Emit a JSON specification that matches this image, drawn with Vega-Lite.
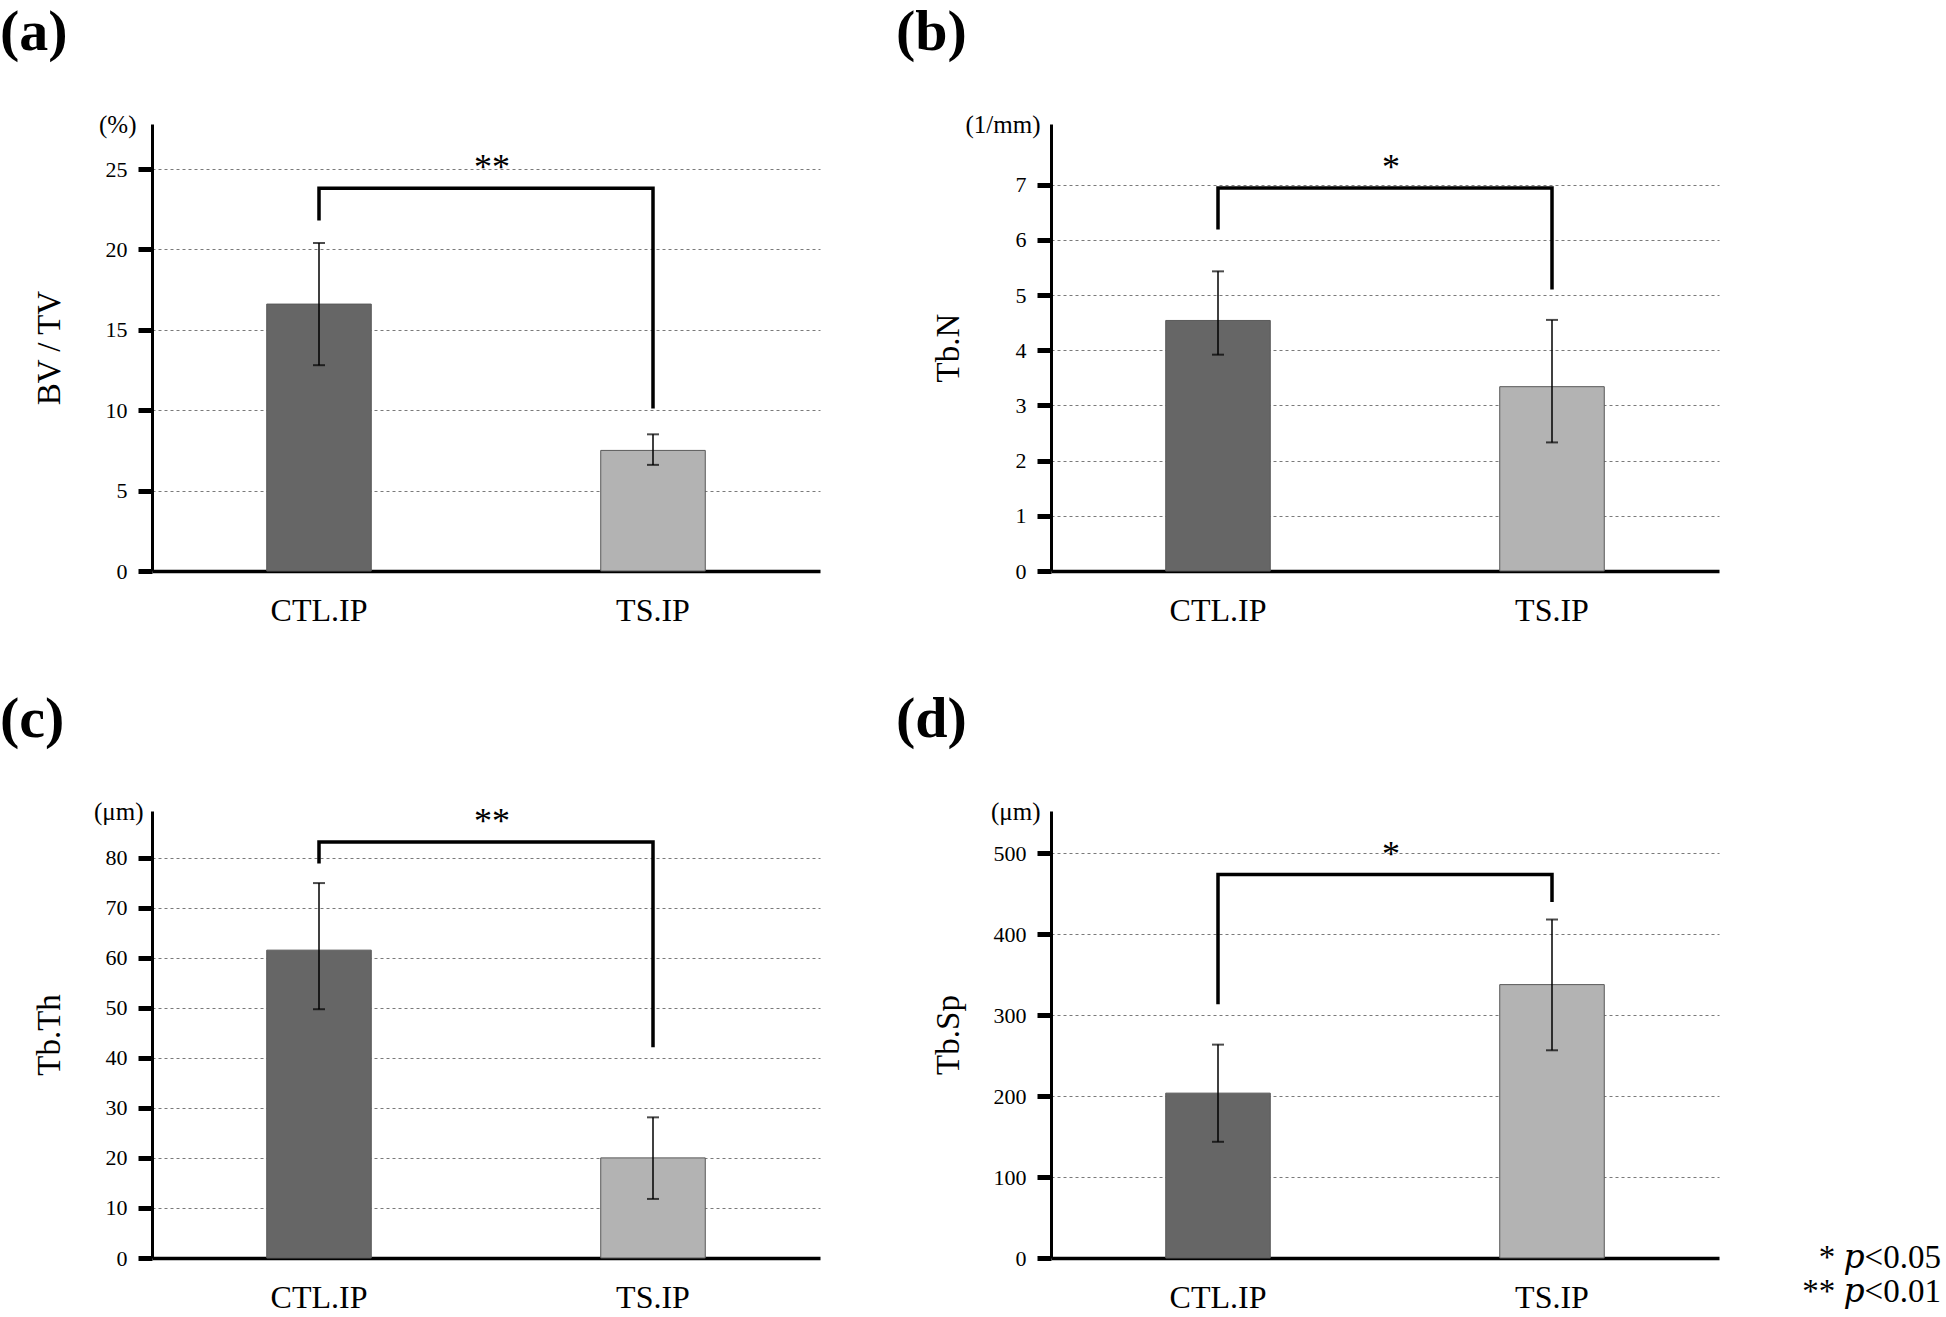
{
  "$schema": "https://vega.github.io/schema/vega-lite/v6.json",
  "padding": {"top": 4, "left": 0, "right": 0, "bottom": 0},
  "background": "white",
  "config": {
    "font": "Liberation Serif",
    "view": {"stroke": null},
    "axis": {"domainColor": "black", "tickColor": "black", "labelColor": "black", "titleColor": "black", "labelFont": "Liberation Serif", "titleFont": "Liberation Serif", "titleFontWeight": "normal"},
    "axisX": {"domainWidth": 3.5, "ticks": false, "tickSize": 0, "labelFontSize": 32, "labelPadding": 24, "labelAngle": 0, "grid": false},
    "axisY": {"domainWidth": 3, "tickWidth": 5, "tickSize": 14, "labelFontSize": 22, "titleFontSize": 33, "titleX": -93, "titleY": 223.5, "titleAngle": -90, "titleBaseline": "alphabetic", "titleAlign": "center", "labelPadding": 11, "grid": true, "gridColor": "#7a7a7a", "gridDash": [3, 3], "gridWidth": 1, "labelOverlap": false, "labelFlush": false, "labelBound": false, "format": "d"},
    "title": {"font": "Liberation Serif", "color": "black"}
  },
  "datasets": {
    "bars": [
      {"panel": "a", "group": "CTL.IP", "mean": 16.6, "lo": 12.8, "hi": 20.4},
      {"panel": "a", "group": "TS.IP", "mean": 7.5, "lo": 6.6, "hi": 8.5},
      {"panel": "b", "group": "CTL.IP", "mean": 4.54, "lo": 3.92, "hi": 5.43},
      {"panel": "b", "group": "TS.IP", "mean": 3.34, "lo": 2.33, "hi": 4.55},
      {"panel": "c", "group": "CTL.IP", "mean": 61.5, "lo": 49.7, "hi": 74.9},
      {"panel": "c", "group": "TS.IP", "mean": 20.0, "lo": 11.8, "hi": 28.1},
      {"panel": "d", "group": "CTL.IP", "mean": 203.6, "lo": 143.5, "hi": 263.5},
      {"panel": "d", "group": "TS.IP", "mean": 337.6, "lo": 256.5, "hi": 418}
    ],
    "brackets": [
      {"panel": "a", "group": "CTL.IP", "order": 1, "y": 21.8},
      {"panel": "a", "group": "CTL.IP", "order": 2, "y": 23.8},
      {"panel": "a", "group": "TS.IP", "order": 3, "y": 23.8},
      {"panel": "a", "group": "TS.IP", "order": 4, "y": 10.1},
      {"panel": "b", "group": "CTL.IP", "order": 1, "y": 6.19},
      {"panel": "b", "group": "CTL.IP", "order": 2, "y": 6.94},
      {"panel": "b", "group": "TS.IP", "order": 3, "y": 6.94},
      {"panel": "b", "group": "TS.IP", "order": 4, "y": 5.1},
      {"panel": "c", "group": "CTL.IP", "order": 1, "y": 78.8},
      {"panel": "c", "group": "CTL.IP", "order": 2, "y": 83.1},
      {"panel": "c", "group": "TS.IP", "order": 3, "y": 83.1},
      {"panel": "c", "group": "TS.IP", "order": 4, "y": 42.1},
      {"panel": "d", "group": "CTL.IP", "order": 1, "y": 313.5},
      {"panel": "d", "group": "CTL.IP", "order": 2, "y": 473.5},
      {"panel": "d", "group": "TS.IP", "order": 3, "y": 473.5},
      {"panel": "d", "group": "TS.IP", "order": 4, "y": 439.5}
    ],
    "stars": [
      {"panel": "a", "label": "**", "y": 23.8},
      {"panel": "b", "label": "*", "y": 6.94},
      {"panel": "c", "label": "**", "y": 83.1},
      {"panel": "d", "label": "*", "y": 473.5}
    ]
  },
  "title": {"text": ["* 𝑝<0.05", "** 𝑝<0.01"], "orient": "bottom", "anchor": "end", "frame": "bounds", "dx": 222, "offset": -45, "baseline": "alphabetic", "align": "right", "fontSize": 33, "fontWeight": "normal", "lineHeight": 34, "font": "Liberation Serif, DejaVu Serif, serif", "color": "black"},
  "bounds": "flush",
  "columns": 2,
  "spacing": {"row": 240, "column": 231},
  "concat": [
    {
      "width": 668, "height": 447,
      "title": {"text": "(a)", "anchor": "start", "frame": "group", "dx": -152, "offset": 50, "fontSize": 58, "fontWeight": "bold", "font": "Liberation Serif", "color": "black"},
      "layer": [
        {"data": {"name": "bars"}, "transform": [{"filter": "datum.panel === 'a'"}],
         "mark": {"type": "bar", "stroke": "#595959", "strokeWidth": 1},
         "encoding": {
           "x": {"field": "group", "type": "nominal", "sort": ["CTL.IP", "TS.IP"], "title": null, "scale": {"paddingInner": 0.687, "paddingOuter": 0.3435}},
           "y": {"field": "mean", "type": "quantitative", "title": "BV / TV", "scale": {"domain": [0, 27.8], "nice": false},
                 "axis": {"values": [0, 5, 10, 15, 20, 25, 27.8], "labelExpr": "datum.value > 26 ? '(%)' : datum.label",
                          "gridOpacity": {"condition": {"test": "datum.value == 0 || datum.value > 26", "value": 0}, "value": 1},
                          "tickOpacity": {"condition": {"test": "datum.value > 26", "value": 0}, "value": 1},
                          "labelFontSize": {"condition": {"test": "datum.value > 26", "value": 25}, "value": 22},
                          "labelPadding": {"condition": {"test": "datum.value > 26", "value": 2}, "value": 11}}},
           "color": {"field": "group", "type": "nominal", "scale": {"domain": ["CTL.IP", "TS.IP"], "range": ["#666666", "#b3b3b3"]}, "legend": null}
         }},
        {"data": {"name": "bars"}, "transform": [{"filter": "datum.panel === 'a'"}],
         "mark": {"type": "rule", "color": "black", "strokeWidth": 1.5},
         "encoding": {"x": {"field": "group", "type": "nominal", "title": null}, "y": {"field": "lo", "type": "quantitative", "title": "BV / TV", "scale": {"domain": [0, 27.8], "nice": false}}, "y2": {"field": "hi"}}},
        {"data": {"name": "bars"}, "transform": [{"filter": "datum.panel === 'a'"}],
         "mark": {"type": "tick", "color": "black", "size": 12, "thickness": 2},
         "encoding": {"x": {"field": "group", "type": "nominal", "title": null}, "y": {"field": "lo", "type": "quantitative", "title": "BV / TV", "scale": {"domain": [0, 27.8], "nice": false}}}},
        {"data": {"name": "bars"}, "transform": [{"filter": "datum.panel === 'a'"}],
         "mark": {"type": "tick", "color": "black", "size": 12, "thickness": 2},
         "encoding": {"x": {"field": "group", "type": "nominal", "title": null}, "y": {"field": "hi", "type": "quantitative", "title": "BV / TV", "scale": {"domain": [0, 27.8], "nice": false}}}},
        {"data": {"name": "brackets"}, "transform": [{"filter": "datum.panel === 'a'"}],
         "mark": {"type": "line", "color": "black", "strokeWidth": 3.5, "strokeJoin": "miter"},
         "encoding": {"x": {"field": "group", "type": "nominal", "title": null}, "y": {"field": "y", "type": "quantitative", "title": "BV / TV", "scale": {"domain": [0, 27.8], "nice": false}}, "order": {"field": "order"}}},
        {"data": {"name": "stars"}, "transform": [{"filter": "datum.panel === 'a'"}],
         "mark": {"type": "text", "dx": 6, "dy": -9, "baseline": "alphabetic", "align": "center", "fontSize": 36, "color": "black"},
         "encoding": {"x": {"datum": "CTL.IP", "type": "nominal", "bandPosition": 2.097, "title": null}, "y": {"field": "y", "type": "quantitative", "title": "BV / TV", "scale": {"domain": [0, 27.8], "nice": false}}, "text": {"field": "label"}}}
      ]
    },
    {
      "width": 668, "height": 447,
      "title": {"text": "(b)", "anchor": "start", "frame": "group", "dx": -155, "offset": 50, "fontSize": 58, "fontWeight": "bold", "font": "Liberation Serif", "color": "black"},
      "layer": [
        {"data": {"name": "bars"}, "transform": [{"filter": "datum.panel === 'b'"}],
         "mark": {"type": "bar", "stroke": "#595959", "strokeWidth": 1},
         "encoding": {
           "x": {"field": "group", "type": "nominal", "sort": ["CTL.IP", "TS.IP"], "title": null, "scale": {"paddingInner": 0.687, "paddingOuter": 0.3435}},
           "y": {"field": "mean", "type": "quantitative", "title": "Tb.N", "scale": {"domain": [0, 8.1], "nice": false},
                 "axis": {"values": [0, 1, 2, 3, 4, 5, 6, 7, 8.1], "labelExpr": "datum.value > 7.5 ? '(1/mm)' : datum.label",
                          "gridOpacity": {"condition": {"test": "datum.value == 0 || datum.value > 7.5", "value": 0}, "value": 1},
                          "tickOpacity": {"condition": {"test": "datum.value > 7.5", "value": 0}, "value": 1},
                          "labelFontSize": {"condition": {"test": "datum.value > 7.5", "value": 25}, "value": 22},
                          "labelPadding": {"condition": {"test": "datum.value > 7.5", "value": -3}, "value": 11}}},
           "color": {"field": "group", "type": "nominal", "scale": {"domain": ["CTL.IP", "TS.IP"], "range": ["#666666", "#b3b3b3"]}, "legend": null}
         }},
        {"data": {"name": "bars"}, "transform": [{"filter": "datum.panel === 'b'"}],
         "mark": {"type": "rule", "color": "black", "strokeWidth": 1.5},
         "encoding": {"x": {"field": "group", "type": "nominal", "title": null}, "y": {"field": "lo", "type": "quantitative", "title": "Tb.N", "scale": {"domain": [0, 8.1], "nice": false}}, "y2": {"field": "hi"}}},
        {"data": {"name": "bars"}, "transform": [{"filter": "datum.panel === 'b'"}],
         "mark": {"type": "tick", "color": "black", "size": 12, "thickness": 2},
         "encoding": {"x": {"field": "group", "type": "nominal", "title": null}, "y": {"field": "lo", "type": "quantitative", "title": "Tb.N", "scale": {"domain": [0, 8.1], "nice": false}}}},
        {"data": {"name": "bars"}, "transform": [{"filter": "datum.panel === 'b'"}],
         "mark": {"type": "tick", "color": "black", "size": 12, "thickness": 2},
         "encoding": {"x": {"field": "group", "type": "nominal", "title": null}, "y": {"field": "hi", "type": "quantitative", "title": "Tb.N", "scale": {"domain": [0, 8.1], "nice": false}}}},
        {"data": {"name": "brackets"}, "transform": [{"filter": "datum.panel === 'b'"}],
         "mark": {"type": "line", "color": "black", "strokeWidth": 3.5, "strokeJoin": "miter"},
         "encoding": {"x": {"field": "group", "type": "nominal", "title": null}, "y": {"field": "y", "type": "quantitative", "title": "Tb.N", "scale": {"domain": [0, 8.1], "nice": false}}, "order": {"field": "order"}}},
        {"data": {"name": "stars"}, "transform": [{"filter": "datum.panel === 'b'"}],
         "mark": {"type": "text", "dx": 6, "dy": -9, "baseline": "alphabetic", "align": "center", "fontSize": 36, "color": "black"},
         "encoding": {"x": {"datum": "CTL.IP", "type": "nominal", "bandPosition": 2.097, "title": null}, "y": {"field": "y", "type": "quantitative", "title": "Tb.N", "scale": {"domain": [0, 8.1], "nice": false}}, "text": {"field": "label"}}}
      ]
    },
    {
      "width": 668, "height": 447,
      "title": {"text": "(c)", "anchor": "start", "frame": "group", "dx": -152, "offset": 50, "fontSize": 58, "fontWeight": "bold", "font": "Liberation Serif", "color": "black"},
      "layer": [
        {"data": {"name": "bars"}, "transform": [{"filter": "datum.panel === 'c'"}],
         "mark": {"type": "bar", "stroke": "#595959", "strokeWidth": 1},
         "encoding": {
           "x": {"field": "group", "type": "nominal", "sort": ["CTL.IP", "TS.IP"], "title": null, "scale": {"paddingInner": 0.687, "paddingOuter": 0.3435}},
           "y": {"field": "mean", "type": "quantitative", "title": "Tb.Th", "scale": {"domain": [0, 89.3], "nice": false},
                 "axis": {"values": [0, 10, 20, 30, 40, 50, 60, 70, 80, 89.3], "labelExpr": "datum.value > 85 ? '(μm)' : datum.label",
                          "gridOpacity": {"condition": {"test": "datum.value == 0 || datum.value > 85", "value": 0}, "value": 1},
                          "tickOpacity": {"condition": {"test": "datum.value > 85", "value": 0}, "value": 1},
                          "labelFontSize": {"condition": {"test": "datum.value > 85", "value": 25}, "value": 22},
                          "labelPadding": {"condition": {"test": "datum.value > 85", "value": -5}, "value": 11}}},
           "color": {"field": "group", "type": "nominal", "scale": {"domain": ["CTL.IP", "TS.IP"], "range": ["#666666", "#b3b3b3"]}, "legend": null}
         }},
        {"data": {"name": "bars"}, "transform": [{"filter": "datum.panel === 'c'"}],
         "mark": {"type": "rule", "color": "black", "strokeWidth": 1.5},
         "encoding": {"x": {"field": "group", "type": "nominal", "title": null}, "y": {"field": "lo", "type": "quantitative", "title": "Tb.Th", "scale": {"domain": [0, 89.3], "nice": false}}, "y2": {"field": "hi"}}},
        {"data": {"name": "bars"}, "transform": [{"filter": "datum.panel === 'c'"}],
         "mark": {"type": "tick", "color": "black", "size": 12, "thickness": 2},
         "encoding": {"x": {"field": "group", "type": "nominal", "title": null}, "y": {"field": "lo", "type": "quantitative", "title": "Tb.Th", "scale": {"domain": [0, 89.3], "nice": false}}}},
        {"data": {"name": "bars"}, "transform": [{"filter": "datum.panel === 'c'"}],
         "mark": {"type": "tick", "color": "black", "size": 12, "thickness": 2},
         "encoding": {"x": {"field": "group", "type": "nominal", "title": null}, "y": {"field": "hi", "type": "quantitative", "title": "Tb.Th", "scale": {"domain": [0, 89.3], "nice": false}}}},
        {"data": {"name": "brackets"}, "transform": [{"filter": "datum.panel === 'c'"}],
         "mark": {"type": "line", "color": "black", "strokeWidth": 3.5, "strokeJoin": "miter"},
         "encoding": {"x": {"field": "group", "type": "nominal", "title": null}, "y": {"field": "y", "type": "quantitative", "title": "Tb.Th", "scale": {"domain": [0, 89.3], "nice": false}}, "order": {"field": "order"}}},
        {"data": {"name": "stars"}, "transform": [{"filter": "datum.panel === 'c'"}],
         "mark": {"type": "text", "dx": 6, "dy": -9, "baseline": "alphabetic", "align": "center", "fontSize": 36, "color": "black"},
         "encoding": {"x": {"datum": "CTL.IP", "type": "nominal", "bandPosition": 2.097, "title": null}, "y": {"field": "y", "type": "quantitative", "title": "Tb.Th", "scale": {"domain": [0, 89.3], "nice": false}}, "text": {"field": "label"}}}
      ]
    },
    {
      "width": 668, "height": 447,
      "title": {"text": "(d)", "anchor": "start", "frame": "group", "dx": -155, "offset": 50, "fontSize": 58, "fontWeight": "bold", "font": "Liberation Serif", "color": "black"},
      "layer": [
        {"data": {"name": "bars"}, "transform": [{"filter": "datum.panel === 'd'"}],
         "mark": {"type": "bar", "stroke": "#595959", "strokeWidth": 1},
         "encoding": {
           "x": {"field": "group", "type": "nominal", "sort": ["CTL.IP", "TS.IP"], "title": null, "scale": {"paddingInner": 0.687, "paddingOuter": 0.3435}},
           "y": {"field": "mean", "type": "quantitative", "title": "Tb.Sp", "scale": {"domain": [0, 552], "nice": false},
                 "axis": {"values": [0, 100, 200, 300, 400, 500, 552], "labelExpr": "datum.value > 520 ? '(μm)' : datum.label",
                          "gridOpacity": {"condition": {"test": "datum.value == 0 || datum.value > 520", "value": 0}, "value": 1},
                          "tickOpacity": {"condition": {"test": "datum.value > 520", "value": 0}, "value": 1},
                          "labelFontSize": {"condition": {"test": "datum.value > 520", "value": 25}, "value": 22},
                          "labelPadding": {"condition": {"test": "datum.value > 520", "value": -3}, "value": 11}}},
           "color": {"field": "group", "type": "nominal", "scale": {"domain": ["CTL.IP", "TS.IP"], "range": ["#666666", "#b3b3b3"]}, "legend": null}
         }},
        {"data": {"name": "bars"}, "transform": [{"filter": "datum.panel === 'd'"}],
         "mark": {"type": "rule", "color": "black", "strokeWidth": 1.5},
         "encoding": {"x": {"field": "group", "type": "nominal", "title": null}, "y": {"field": "lo", "type": "quantitative", "title": "Tb.Sp", "scale": {"domain": [0, 552], "nice": false}}, "y2": {"field": "hi"}}},
        {"data": {"name": "bars"}, "transform": [{"filter": "datum.panel === 'd'"}],
         "mark": {"type": "tick", "color": "black", "size": 12, "thickness": 2},
         "encoding": {"x": {"field": "group", "type": "nominal", "title": null}, "y": {"field": "lo", "type": "quantitative", "title": "Tb.Sp", "scale": {"domain": [0, 552], "nice": false}}}},
        {"data": {"name": "bars"}, "transform": [{"filter": "datum.panel === 'd'"}],
         "mark": {"type": "tick", "color": "black", "size": 12, "thickness": 2},
         "encoding": {"x": {"field": "group", "type": "nominal", "title": null}, "y": {"field": "hi", "type": "quantitative", "title": "Tb.Sp", "scale": {"domain": [0, 552], "nice": false}}}},
        {"data": {"name": "brackets"}, "transform": [{"filter": "datum.panel === 'd'"}],
         "mark": {"type": "line", "color": "black", "strokeWidth": 3.5, "strokeJoin": "miter"},
         "encoding": {"x": {"field": "group", "type": "nominal", "title": null}, "y": {"field": "y", "type": "quantitative", "title": "Tb.Sp", "scale": {"domain": [0, 552], "nice": false}}, "order": {"field": "order"}}},
        {"data": {"name": "stars"}, "transform": [{"filter": "datum.panel === 'd'"}],
         "mark": {"type": "text", "dx": 6, "dy": -9, "baseline": "alphabetic", "align": "center", "fontSize": 36, "color": "black"},
         "encoding": {"x": {"datum": "CTL.IP", "type": "nominal", "bandPosition": 2.097, "title": null}, "y": {"field": "y", "type": "quantitative", "title": "Tb.Sp", "scale": {"domain": [0, 552], "nice": false}}, "text": {"field": "label"}}}
      ]
    }
  ]
}
